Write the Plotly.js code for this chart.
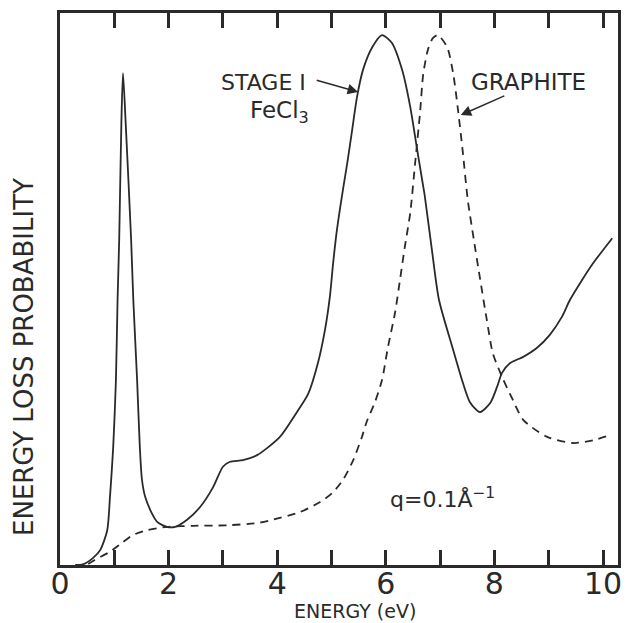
<!DOCTYPE html>
<html>
<head>
<meta charset="utf-8">
<script src="https://cdn.plot.ly/plotly-3.0.1.min.js"></script>
<style>html,body{margin:0;padding:0;background:#fff;}#chart{width:633px;height:623px;}</style>
</head>
<body>
<div id="chart"></div>
<script>
// Stage I FeCl3 intercalated graphite (solid curve)
var feclEnergy = [0.28,0.42,0.61,0.74,0.87,0.92,0.98,1.03,1.06,1.09,1.13,1.16,1.21,1.31,1.35,1.42,1.47,1.51,1.57,1.69,1.79,1.97,2.12,2.34,2.58,2.82,3.00,3.13,3.37,3.63,4.05,4.35,4.57,4.75,4.88,4.97,5.03,5.10,5.19,5.29,5.38,5.47,5.58,5.75,5.93,6.11,6.30,6.45,6.57,6.67,6.72,6.85,6.98,7.24,7.42,7.55,7.73,7.92,8.05,8.14,8.29,8.53,8.78,9.02,9.24,9.39,9.58,9.82,10.17];
var feclLoss   = [0.000,0.001,0.013,0.027,0.063,0.123,0.214,0.335,0.480,0.589,0.800,0.891,0.800,0.589,0.480,0.335,0.214,0.154,0.123,0.094,0.078,0.069,0.069,0.082,0.105,0.141,0.178,0.187,0.190,0.199,0.232,0.275,0.310,0.366,0.426,0.486,0.547,0.607,0.667,0.728,0.788,0.848,0.897,0.938,0.960,0.946,0.897,0.830,0.757,0.697,0.667,0.570,0.480,0.390,0.330,0.295,0.277,0.293,0.323,0.348,0.366,0.377,0.393,0.417,0.449,0.480,0.511,0.547,0.592];

// Graphite (dashed curve)
var graphEnergy = [0.52,0.64,0.92,1.14,1.34,1.60,1.97,2.45,3.08,3.63,3.92,4.42,4.79,5.01,5.21,5.40,5.56,5.65,5.80,5.93,6.04,6.17,6.26,6.35,6.45,6.54,6.63,6.69,6.78,6.87,6.96,7.13,7.24,7.33,7.42,7.51,7.62,7.73,7.86,7.97,8.14,8.34,8.53,8.97,9.45,9.82,10.15];
var graphLoss   = [0.002,0.009,0.024,0.040,0.054,0.063,0.069,0.071,0.072,0.076,0.082,0.096,0.114,0.130,0.154,0.190,0.232,0.260,0.295,0.335,0.395,0.457,0.516,0.576,0.638,0.728,0.819,0.890,0.935,0.955,0.960,0.938,0.891,0.824,0.746,0.661,0.590,0.522,0.444,0.384,0.341,0.299,0.263,0.232,0.221,0.226,0.236];

var tickValues = [0,1,2,3,4,5,6,7,8,9,10];
var tickLabels = ['0','','2','','4','','6','','8','','10'];

var ink = '#2a2a2a';
var fontFam = 'DejaVu Sans, sans-serif';

var traces = [
  {x: feclEnergy, y: feclLoss, mode: 'lines', name: 'Stage I FeCl3',
   line: {color: ink, width: 1.8, shape: 'spline', smoothing: 0.7}},
  {x: graphEnergy, y: graphLoss, mode: 'lines', name: 'Graphite',
   line: {color: ink, width: 1.8, dash: '8px,6px', shape: 'spline', smoothing: 0.7}}
];

var layout = {
  width: 633, height: 623,
  margin: {l: 60, r: 15, t: 13, b: 58},
  paper_bgcolor: '#fff', plot_bgcolor: '#fff',
  showlegend: false,
  font: {family: fontFam, color: ink},
  xaxis: {
    range: [0, 10.276], tickvals: tickValues, ticktext: tickLabels,
    ticks: 'inside', ticklen: 15, tickwidth: 3, tickcolor: ink,
    showline: true, linewidth: 3, linecolor: ink, mirror: 'ticks',
    showgrid: false, zeroline: false, ticklabelstandoff: -10,
    tickfont: {size: 30, color: ink, family: fontFam}
  },
  yaxis: {
    range: [0, 1], showticklabels: false, ticks: '',
    showline: true, linewidth: 3, linecolor: ink, mirror: true,
    showgrid: false, zeroline: false
  },
  annotations: [
    {x: 5.49, y: 0.857, xref: 'x', yref: 'y', ax: 4.70, ay: 0.879, axref: 'x', ayref: 'y',
     text: '', showarrow: true, arrowhead: 2, arrowsize: 1.4, arrowwidth: 1.5, arrowcolor: ink},
    {x: 7.38, y: 0.815, xref: 'x', yref: 'y', ax: 8.21, ay: 0.851, axref: 'x', ayref: 'y',
     text: '', showarrow: true, arrowhead: 2, arrowsize: 1.4, arrowwidth: 1.5, arrowcolor: ink},
    {x: 3.74, y: 0.875, xref: 'x', yref: 'y', text: 'STAGE I', showarrow: false,
     font: {size: 22, color: ink, family: fontFam}},
    {x: 4.05, y: 0.82, xref: 'x', yref: 'y', text: 'FeCl<sub>3</sub>', showarrow: false,
     font: {size: 23, color: ink, family: fontFam}},
    {x: 8.62, y: 0.875, xref: 'x', yref: 'y', text: 'GRAPHITE', showarrow: false,
     font: {size: 23, color: ink, family: fontFam}},
    {x: 7.05, y: 0.121, xref: 'x', yref: 'y', text: 'q=0.1Å<sup>−1</sup>', showarrow: false,
     font: {size: 22, color: ink, family: fontFam}},
    {x: (355-60)/558, y: (565-611)/552, xref: 'paper', yref: 'paper', xanchor: 'center', yanchor: 'middle',
     text: 'ENERGY (eV)', showarrow: false, font: {size: 19, color: ink, family: fontFam}},
    {x: (24-60)/558, y: (565-357)/552, xref: 'paper', yref: 'paper', xanchor: 'center', yanchor: 'middle',
     text: 'ENERGY LOSS PROBABILITY', textangle: -90, showarrow: false,
     font: {size: 26, color: ink, family: fontFam}}
  ]
};

Plotly.newPlot('chart', traces, layout, {staticPlot: true});
</script>
</body>
</html>
